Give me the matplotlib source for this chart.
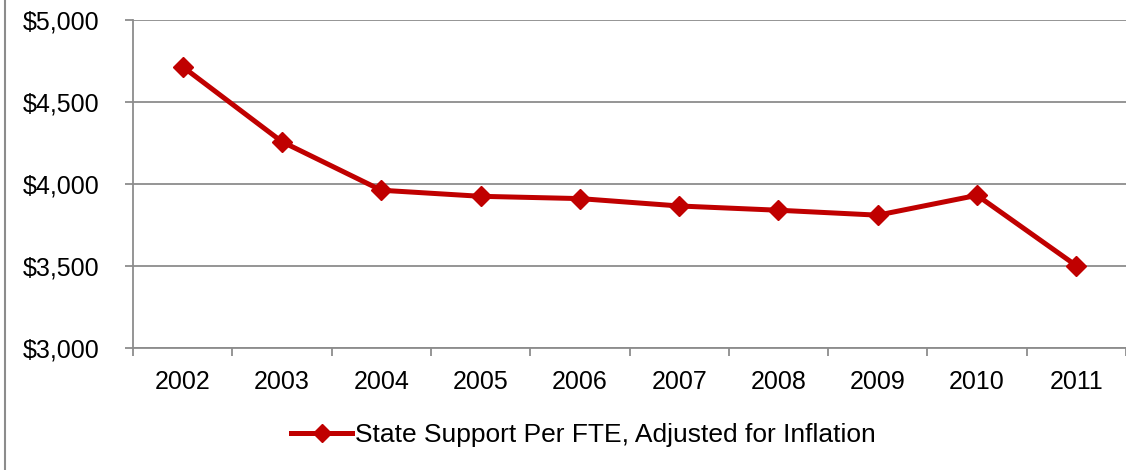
import matplotlib
matplotlib.use('Agg')
import matplotlib.pyplot as plt
from matplotlib.ticker import FuncFormatter, FixedLocator
from matplotlib.lines import Line2D

plt.rcParams['font.family'] = ['Liberation Sans', 'DejaVu Sans']

years = ['2002', '2003', '2004', '2005', '2006', '2007', '2008', '2009', '2010', '2011']
support = [4715, 4258, 3962, 3925, 3911, 3866, 3840, 3810, 3931, 3502]
series_label = 'State Support Per FTE, Adjusted for Inflation'

red = '#C00000'
gray = '#8C8C8C'

fig = plt.figure(figsize=(11.26, 4.70), dpi=100)
ax = fig.add_axes([133 / 1126, 1 - 348 / 470, 1 - 133 / 1126, 328 / 470])

x = list(range(len(years)))
ax.plot(x, support, color=red, lw=3.6, marker='D', markersize=10,
        markerfacecolor=red, markeredgecolor=red, zorder=3, clip_on=False)

ax.set_ylim(3000, 5000)
ax.set_xlim(-0.5, len(years) - 0.5)
ax.set_yticks([3000, 3500, 4000, 4500, 5000])
ax.yaxis.set_major_formatter(FuncFormatter(lambda v, p: '${:,.0f}'.format(v)))
ax.set_xticks(x)
ax.set_xticklabels(years)
ax.xaxis.set_minor_locator(FixedLocator([i - 0.5 for i in range(len(years) + 1)]))

ax.grid(axis='y', color=gray, lw=1.3, zorder=0)
for s in ['top', 'right']:
    ax.spines[s].set_visible(False)
for s in ['left', 'bottom']:
    ax.spines[s].set_color(gray)
    ax.spines[s].set_linewidth(1.3)

ax.tick_params(axis='y', direction='out', length=6, width=1.3, color=gray,
               pad=18, labelsize=18)
ax.tick_params(axis='x', which='major', length=0, pad=16, labelsize=18)
ax.tick_params(axis='x', which='minor', direction='out', length=6, width=1.3, color=gray)

handle = Line2D([], [], color=red, lw=3.6, marker='D', markersize=9)
fig.legend([handle], [series_label], loc='center', bbox_to_anchor=(0.518, 0.0745),
           frameon=False, fontsize=19, handlelength=2.3, handletextpad=0.1)

# outer chart frame (left edge visible)
fig.add_artist(Line2D([5 / 1126, 5 / 1126], [0, 1], color=gray, lw=1.5,
                      transform=fig.transFigure))

fig.savefig('out.png', dpi=100)
